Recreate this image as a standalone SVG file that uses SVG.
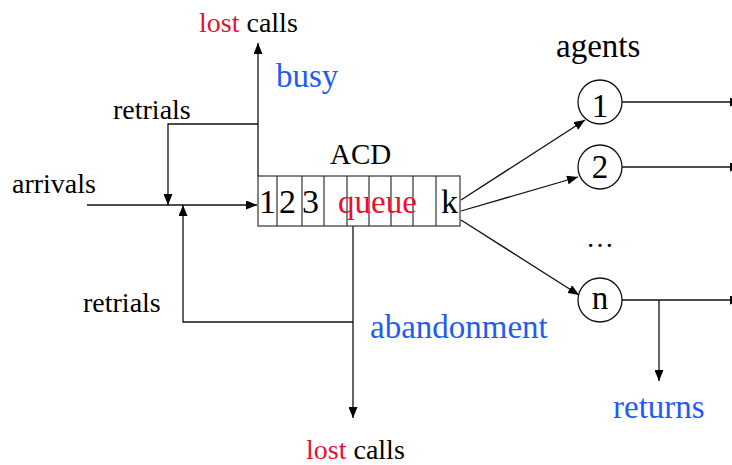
<svg xmlns="http://www.w3.org/2000/svg" width="732" height="465" viewBox="0 0 732 465">
<defs>
<marker id="arr" markerUnits="userSpaceOnUse" markerWidth="11" markerHeight="9" refX="11" refY="4.5" orient="auto">
<path d="M0,0 L11,4.5 L0,9 z" fill="#000"/>
</marker>
<style>
.ln{fill:none;stroke:#111;stroke-width:1.3}
.cell{fill:#fff;stroke:#333;stroke-width:1.2}
.t{font-family:"Liberation Serif","Times New Roman",serif;font-size:28px;fill:#000}
.big{font-size:33px}
.dg{font-size:34px}
.red{fill:#e8102e}
.blue{fill:#1f5cf5}
.nd{fill:#fff;stroke:#111;stroke-width:1.3}
</style>
</defs>
<rect width="732" height="465" fill="#fff"/>
<g id="connectors">
<path class="ln" d="M87,205 H257" marker-end="url(#arr)"/>
<path class="ln" d="M258,176 V43" marker-end="url(#arr)"/>
<path class="ln" d="M258,124 H168 V205" marker-end="url(#arr)"/>
<path class="ln" d="M353,322 H183 V205" marker-end="url(#arr)"/>
<path class="ln" d="M353,226 V418" marker-end="url(#arr)"/>
<path class="ln" d="M461,200 L585,120" marker-end="url(#arr)"/>
<path class="ln" d="M461,211 L578,177" marker-end="url(#arr)"/>
<path class="ln" d="M461,220 L579,295" marker-end="url(#arr)"/>
<path class="ln" d="M622,102 H741" marker-end="url(#arr)"/>
<path class="ln" d="M622,167 H741" marker-end="url(#arr)"/>
<path class="ln" d="M622,300 H741" marker-end="url(#arr)"/>
<path class="ln" d="M659,300 V381" marker-end="url(#arr)"/>
</g>
<g id="acd">
<rect class="cell" x="258" y="176" width="202" height="50"/>
<path class="cell" d="M277,176 V226 M302,176 V226 M324,176 V226 M347,176 V226 M369,176 V226 M391,176 V226 M413,176 V226 M436,176 V226"/>
<text class="t" x="330" y="164" style="font-size:29px">ACD</text>
<text class="t dg" x="259" y="213">1</text>
<text class="t dg" x="279" y="213">2</text>
<text class="t dg" x="302" y="213">3</text>
<text class="t big red" x="338" y="213">queue</text>
<text class="t dg" x="441" y="213">k</text>
</g>
<g id="agent1">
<circle class="nd" cx="600" cy="102" r="22"/>
<text class="t big" x="600" y="117" text-anchor="middle">1</text>
</g>
<g id="agent2">
<circle class="nd" cx="600" cy="167" r="22"/>
<text class="t big" x="600" y="178" text-anchor="middle">2</text>
</g>
<g id="agentn">
<circle class="nd" cx="600" cy="300" r="22"/>
<text class="t big" x="600" y="309" text-anchor="middle">n</text>
</g>
<g id="labels">
<text class="t big" x="556" y="57">agents</text>
<text class="t" x="600" y="247" text-anchor="middle">…</text>
<text class="t" x="199" y="32"><tspan class="red">lost</tspan> calls</text>
<text class="t big blue" x="276" y="87">busy</text>
<text class="t" x="113" y="119">retrials</text>
<text class="t" x="12" y="193">arrivals</text>
<text class="t" x="83" y="312">retrials</text>
<text class="t big blue" x="370" y="338">abandonment</text>
<text class="t" x="306" y="459"><tspan class="red">lost</tspan> calls</text>
<text class="t big blue" x="613" y="418">returns</text>
</g>
</svg>
